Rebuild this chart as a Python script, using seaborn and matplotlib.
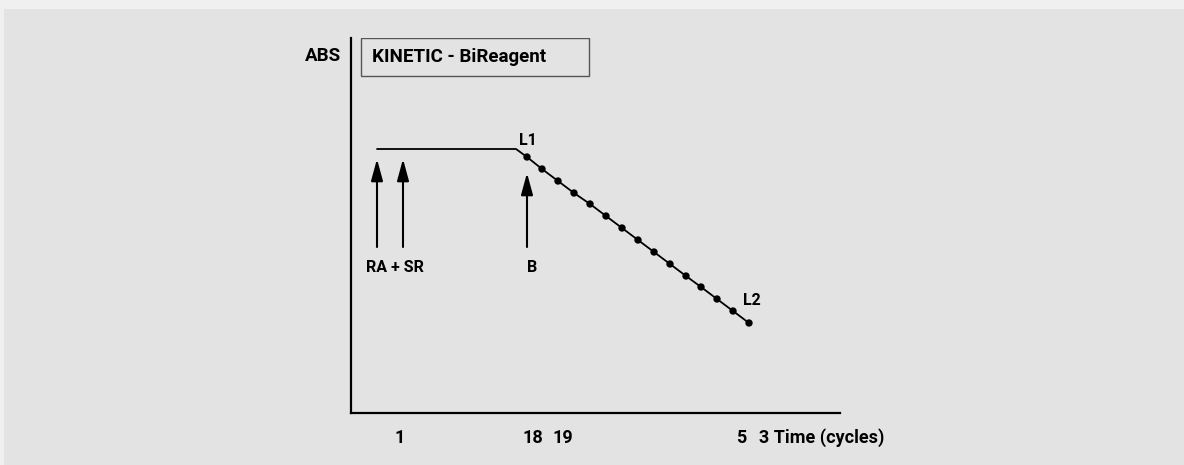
import matplotlib
matplotlib.use("Agg")
import matplotlib.pyplot as plt
import seaborn as sns
import pandas as pd
from matplotlib.patches import Rectangle

# schematic units (x: time position, y: absorbance)
flat_x = [2.6, 16.5]
flat_y = [26.4, 26.4]
dot_x = [17.6, 19.1, 20.7, 22.3, 23.9, 25.5, 27.1, 28.7, 30.3, 31.9, 33.5, 35.0, 36.6, 38.2, 39.8]
dot_y = [25.6, 24.4, 23.2, 22.0, 20.9, 19.7, 18.5, 17.3, 16.1, 14.9, 13.7, 12.6, 11.4, 10.2, 9.0]

arrow_x = [2.6, 5.2, 17.6]
arrow_top = [25.4, 25.4, 24.0]
arrow_base = 16.6

tick_pos = [4.9, 18.2, 21.2, 39.0]
tick_labels = ["1", "18", "19", "5"]
axis_title = "3 Time (cycles)"

sns.set_theme(style="white")
plt.rcParams['font.family'] = ['Roboto', 'DejaVu Sans']
plt.rcParams['font.weight'] = 'bold'
plt.rcParams['text.color'] = 'black'

fig = plt.figure(figsize=(11.84, 4.65), dpi=100)
fig.patch.set_facecolor('#f0f0f0')
fig.patches.append(Rectangle((4 / 1184, 0), 1, 456 / 465, transform=fig.transFigure,
                             facecolor='#e3e3e3', edgecolor='none', zorder=-5))

ax = fig.add_axes([351 / 1184, 52 / 465, 489 / 1184, 375 / 465])
ax.set_facecolor('none')

path = pd.DataFrame({'x': flat_x + dot_x, 'y': flat_y + dot_y})
sns.lineplot(data=path, x='x', y='y', sort=False, color='black', lw=1.3, ax=ax)
sns.scatterplot(x=dot_x, y=dot_y, color='black', s=28, edgecolor='none', ax=ax, zorder=3)

for x, top in zip(arrow_x, arrow_top):
    ax.annotate('', xy=(x, top), xytext=(x, arrow_base),
                arrowprops=dict(arrowstyle='-|>,head_length=1.1,head_width=0.3',
                                color='black', lw=1.5, shrinkA=0, shrinkB=0))

ax.text(4.4, 14.6, "RA + SR", ha='center', va='center', fontsize=11.5)
ax.text(18.1, 14.6, "B", ha='center', va='center', fontsize=11.5)
ax.text(17.7, 27.3, "L1", ha='center', va='center', fontsize=11.5)
ax.text(40.1, 11.3, "L2", ha='center', va='center', fontsize=11.5)

for x, lab in zip(tick_pos, tick_labels):
    ax.text(x, -2.5, lab, ha='center', va='center', fontsize=13)
ax.text(40.8, -2.5, axis_title, ha='left', va='center', fontsize=13)

ax.text(-2.8, 35.7, "ABS", ha='center', va='center', fontsize=13.5)
ax.add_patch(Rectangle((1.0, 33.75), 22.8, 3.75, facecolor='none', edgecolor='#555555', lw=1))
ax.text(2.1, 35.6, "KINETIC - BiReagent", ha='left', va='center', fontsize=13.5)

ax.set_xlim(0, 48.9)
ax.set_ylim(0, 37.5)
ax.set_xticks([])
ax.set_yticks([])
ax.set_xlabel('')
ax.set_ylabel('')
sns.despine(ax=ax)
for s in ['left', 'bottom']:
    ax.spines[s].set_color('black')
    ax.spines[s].set_linewidth(1.6)

fig.savefig('out.png', dpi=100, facecolor=fig.get_facecolor())
